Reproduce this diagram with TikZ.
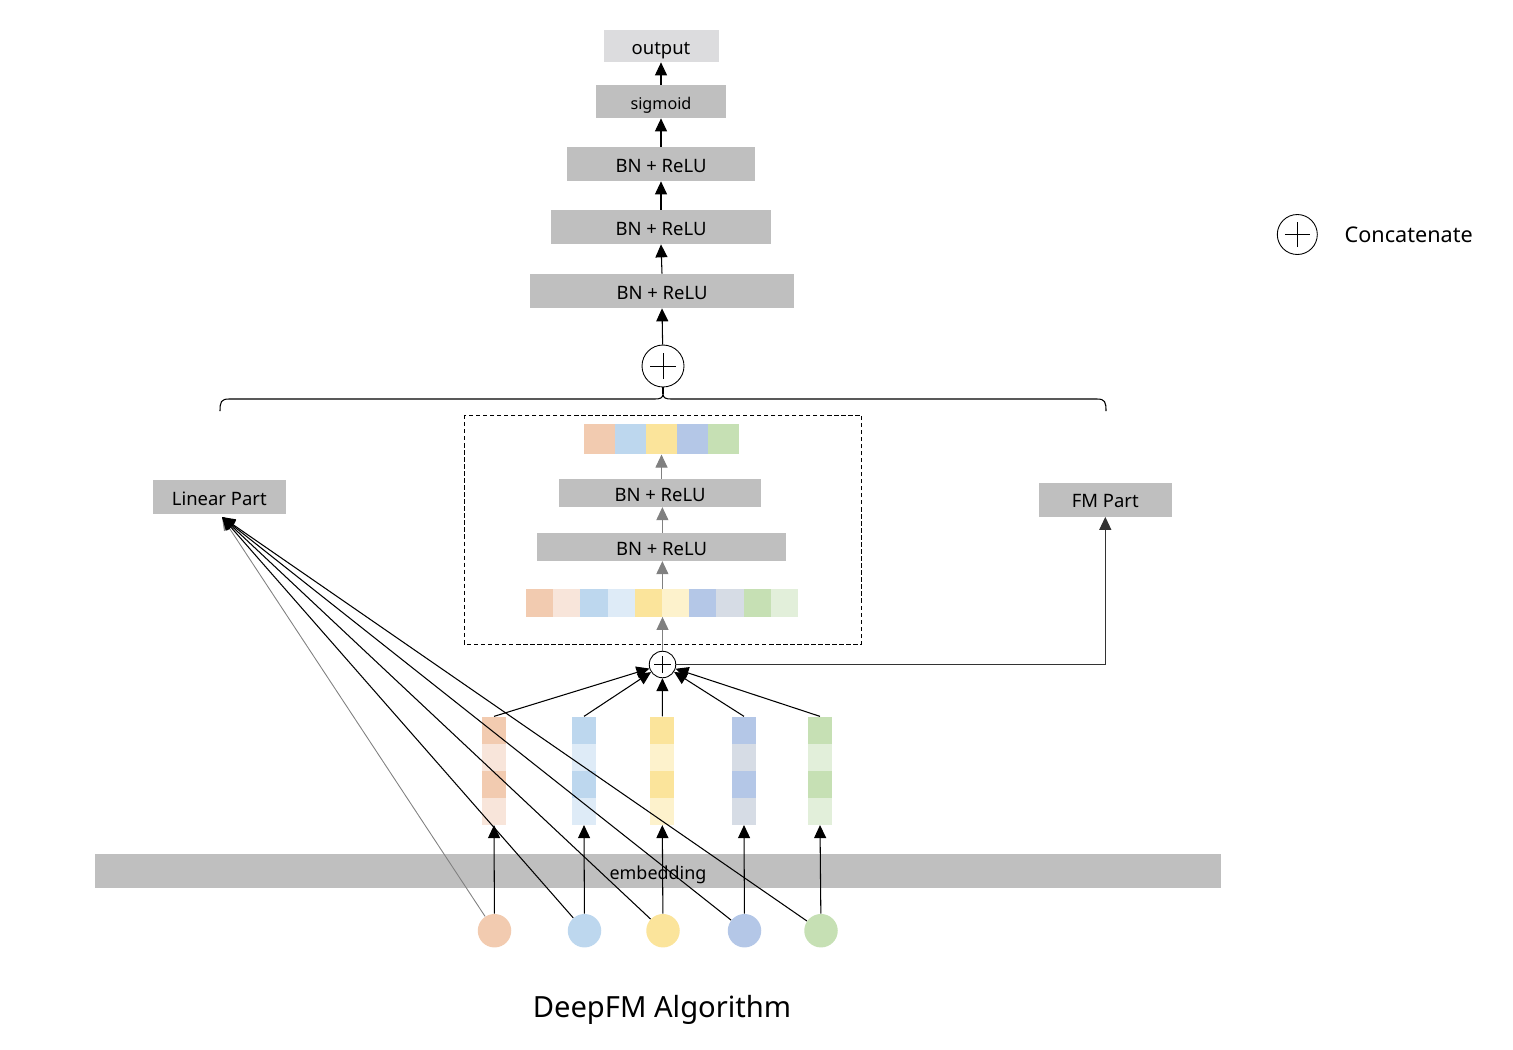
\documentclass[tikz,border=0pt]{standalone}
\usepackage{fontspec}
\setmainfont{Noto Sans}
\usetikzlibrary{arrows.meta}
\definecolor{boxgray}{HTML}{BFBFBF}
\definecolor{outgray}{HTML}{DCDCDE}
\definecolor{orD}{HTML}{F2CBB0}
\definecolor{orL}{HTML}{F8E5DA}
\definecolor{blD}{HTML}{BDD7EE}
\definecolor{blL}{HTML}{DEEBF7}
\definecolor{yeD}{HTML}{FBE49B}
\definecolor{yeL}{HTML}{FDF2CC}
\definecolor{dbD}{HTML}{B4C7E7}
\definecolor{dbL}{HTML}{D6DCE5}
\definecolor{grD}{HTML}{C6E0B4}
\definecolor{grL}{HTML}{E2EFDA}
\tikzset{
    layer/.style = {rectangle, fill=boxgray, inner sep=0pt, minimum height=0.68cm, text height=1.75ex, text depth=0ex, font=\fontsize{10.5}{12}\selectfont},
    cell/.style = {rectangle, inner sep=0pt, minimum width=0.48cm, minimum height=0.54cm},
    feat/.style = {circle, inner sep=0pt, minimum size=0.67cm},
    catnode/.style = {circle, draw=black, line width=0.5pt, inner sep=0pt, fill=white},
    edgen/.style = {-{Triangle[length=0.26cm,width=0.24cm]}, line width=0.6pt, black},
    edgeg/.style = {-{Triangle[length=0.26cm,width=0.24cm]}, line width=0.6pt, black!50},
    edgel/.style = {line width=0.6pt, black}
}

\begin{document}
\begin{tikzpicture}[x=0.02cm, y=-0.02cm]
\useasboundingbox (0,0) rectangle (1513,1049);

% output stack
\node[layer, fill=outgray, minimum width=2.30cm, minimum height=0.64cm] at (661,46) (out) {output};
\node[layer, minimum width=2.60cm, minimum height=0.66cm, font=\fontsize{9.2}{11}\selectfont] at (661,101.5) (sig) {sigmoid};
\node[layer, minimum width=3.76cm] at (661,164) (bn1) {BN + ReLU};
\node[layer, minimum width=4.42cm] at (661,227) (bn2) {BN + ReLU};
\node[layer, minimum width=5.28cm] at (662,291) (bn3) {BN + ReLU};
\node[catnode, minimum size=0.84cm] at (663,366) (cattop) {};
\draw[line width=0.5pt] ([xshift=-0.26cm]cattop.center) -- ([xshift=0.26cm]cattop.center)
                        ([yshift=-0.26cm]cattop.center) -- ([yshift=0.26cm]cattop.center);

% brace over the three parts
\coordinate (bracetip) at (663,394);
\draw[edgel] (220,411) .. controls (220,402) and (221,399) .. (229,399) -- (655,399)
   .. controls (660,399) and (663,398) .. (bracetip)
   .. controls (663,398) and (666,399) .. (671,399) -- (1097,399)
   .. controls (1105,399) and (1106,402) .. (1106,411);

% deep part
\draw[dash pattern=on 2.5pt off 1.5pt, line width=0.5pt] (464,415) rectangle (861.5,644);
\node[cell, fill=orD, minimum width=0.62cm, minimum height=0.6cm] at (599.5,439.2) (t1) {};
\node[cell, fill=blD, minimum width=0.62cm, minimum height=0.6cm] at (630.5,439.2) (t2) {};
\node[cell, fill=yeD, minimum width=0.62cm, minimum height=0.6cm] at (661.5,439.2) (t3) {};
\node[cell, fill=dbD, minimum width=0.62cm, minimum height=0.6cm] at (692.5,439.2) (t4) {};
\node[cell, fill=grD, minimum width=0.62cm, minimum height=0.6cm] at (723.5,439.2) (t5) {};
\node[layer, minimum width=4.06cm, minimum height=0.55cm] at (660,493) (bni1) {BN + ReLU};
\node[layer, minimum width=4.98cm, minimum height=0.55cm] at (661.5,547) (bni2) {BN + ReLU};
\node[cell, fill=orD, minimum width=0.545cm, minimum height=0.55cm] at (539.6,602.8) (r1) {};
\node[cell, fill=orL, minimum width=0.545cm, minimum height=0.55cm] at (566.8,602.8) (r2) {};
\node[cell, fill=blD, minimum width=0.545cm, minimum height=0.55cm] at (594.0,602.8) (r3) {};
\node[cell, fill=blL, minimum width=0.545cm, minimum height=0.55cm] at (621.2,602.8) (r4) {};
\node[cell, fill=yeD, minimum width=0.545cm, minimum height=0.55cm] at (648.4,602.8) (r5) {};
\node[cell, fill=yeL, minimum width=0.545cm, minimum height=0.55cm] at (675.6,602.8) (r6) {};
\node[cell, fill=dbD, minimum width=0.545cm, minimum height=0.55cm] at (702.8,602.8) (r7) {};
\node[cell, fill=dbL, minimum width=0.545cm, minimum height=0.55cm] at (730.0,602.8) (r8) {};
\node[cell, fill=grD, minimum width=0.545cm, minimum height=0.55cm] at (757.2,602.8) (r9) {};
\node[cell, fill=grL, minimum width=0.545cm, minimum height=0.55cm] at (784.4,602.8) (r10) {};

% linear and fm parts
\node[layer, minimum width=2.66cm] at (219.3,497) (linear) {Linear Part};
\node[layer, minimum width=2.66cm] at (1105.3,499.5) (fm) {FM Part};
\coordinate (lin) at (222,517);

% field embeddings
\node[cell, fill=orD] at (494,730.2) (v1a) {};
\node[cell, fill=orL] at (494,757.2) (v1b) {};
\node[cell, fill=orD] at (494,784.2) (v1c) {};
\node[cell, fill=orL] at (494,811.2) (v1d) {};
\node[cell, fill=blD] at (584,730.2) (v2a) {};
\node[cell, fill=blL] at (584,757.2) (v2b) {};
\node[cell, fill=blD] at (584,784.2) (v2c) {};
\node[cell, fill=blL] at (584,811.2) (v2d) {};
\node[cell, fill=yeD] at (662.3,730.2) (v3a) {};
\node[cell, fill=yeL] at (662.3,757.2) (v3b) {};
\node[cell, fill=yeD] at (662.3,784.2) (v3c) {};
\node[cell, fill=yeL] at (662.3,811.2) (v3d) {};
\node[cell, fill=dbD] at (744,730.2) (v4a) {};
\node[cell, fill=dbL] at (744,757.2) (v4b) {};
\node[cell, fill=dbD] at (744,784.2) (v4c) {};
\node[cell, fill=dbL] at (744,811.2) (v4d) {};
\node[cell, fill=grD] at (820,730.2) (v5a) {};
\node[cell, fill=grL] at (820,757.2) (v5b) {};
\node[cell, fill=grD] at (820,784.2) (v5c) {};
\node[cell, fill=grL] at (820,811.2) (v5d) {};

\node[layer, minimum width=22.52cm, minimum height=0.67cm, font=\fontsize{10.2}{12}\selectfont] at (658,871) (emb) {embedding};

\node[feat, fill=orD] at (494.5,930.7) (f1) {};
\node[feat, fill=blD] at (584.5,930.7) (f2) {};
\node[feat, fill=yeD] at (663,930.7) (f3) {};
\node[feat, fill=dbD] at (744.5,930.7) (f4) {};
\node[feat, fill=grD] at (821,930.7) (f5) {};

\node[catnode, minimum size=0.53cm] at (662.5,664.5) (cat) {};
\draw[line width=0.5pt] ([xshift=-0.17cm]cat.center) -- ([xshift=0.17cm]cat.center)
                        ([yshift=-0.17cm]cat.center) -- ([yshift=0.17cm]cat.center);

% connectors
\draw[edgen] (cattop) -- (bn3.south);
\draw[edgel] (cattop) -- (bracetip);
\draw[edgen] (bn3.north) -- (bn2.south);
\draw[edgen] (bn2.north) -- (bn1.south);
\draw[edgen] (bn1.north) -- (sig.south);
\draw[edgen] (sig.north) -- (out.south);

\draw[edgeg] (cat) -- (cat |- r5.south);
\draw[edgeg] (r5.north east) -- (r5.north east |- bni2.south);
\draw[edgeg] (bni2.north -| r5.north east) -- (r5.north east |- bni1.south);
\draw[edgeg] (bni1.north -| t3.south) -- (t3.south);

\draw[edgen, black!80] (cat.east) -| (fm.south);

\draw[edgen] (f1) -- (v1d.south);
\draw[edgen] (f2) -- (v2d.south);
\draw[edgen] (f3) -- (v3d.south);
\draw[edgen] (f4) -- (v4d.south);
\draw[edgen] (f5) -- (v5d.south);

\draw[edgen] (v1a.north) -- (cat);
\draw[edgen] (v2a.north) -- (cat);
\draw[edgen] (v3a.north) -- (cat);
\draw[edgen] (v4a.north) -- (cat);
\draw[edgen] (v5a.north) -- (cat);

\draw[edgeg, line width=0.5pt] (f1) -- (lin);
\draw[edgen] (f2) -- (lin);
\draw[edgen] (f3) -- (lin);
\draw[edgen] (f4) -- (lin);
\draw[edgen] (f5) -- (lin);

% legend and title
\node[catnode, minimum size=0.8cm] at (1297.3,234.5) (legcat) {};
\draw[line width=0.5pt] ([xshift=-0.25cm]legcat.center) -- ([xshift=0.25cm]legcat.center)
                        ([yshift=-0.25cm]legcat.center) -- ([yshift=0.25cm]legcat.center);
\node[font=\fontsize{12.3}{14}\selectfont, inner sep=0pt] at (1408.7,234.5) (legtxt) {Concatenate};
\node[font=\fontsize{16.6}{19}\selectfont, inner sep=0pt] at (662,1010) (title) {DeepFM Algorithm};
\end{tikzpicture}
\end{document}
